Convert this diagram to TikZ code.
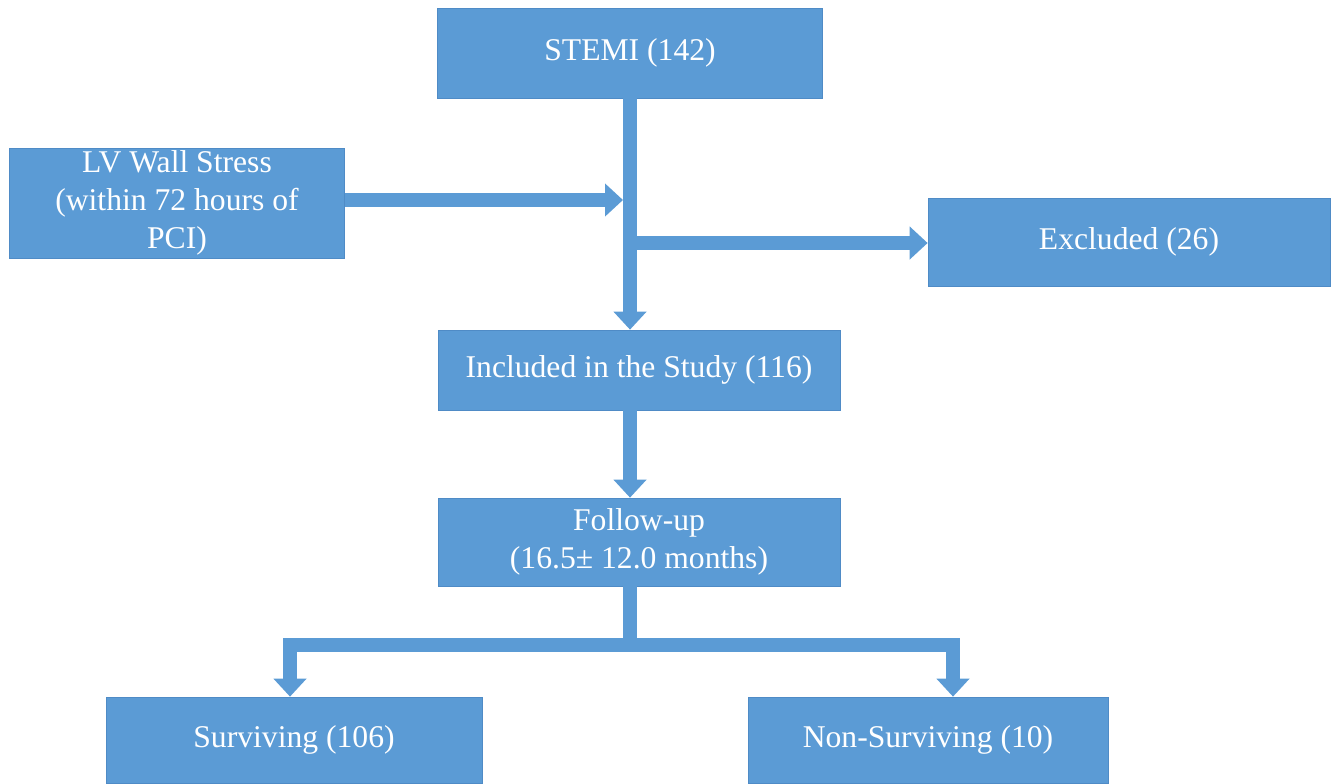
\documentclass[tikz,border=0pt]{standalone}
\usepackage{fontspec}
\setmainfont{Liberation Serif}
\usetikzlibrary{positioning}
\usetikzlibrary{arrows.meta}
\definecolor{boxblue}{HTML}{5B9BD5}
\definecolor{boxedge}{HTML}{4F8BC6}

\begin{document}
\begin{tikzpicture}[
 box/.style={draw=boxedge,line width=0.4pt,fill=boxblue,text=white,align=center,
  font=\fontsize{18}{21.5}\selectfont,inner sep=0pt},
 flow/.style={draw=boxblue,line width=2.8mm,line join=miter,
  -{Triangle[width=6.4mm,length=3.6mm]}},
 bar/.style={draw=boxblue,line width=2.8mm}]

  \useasboundingbox (0,0) rectangle (26.8,-15.66);

  \node[box,minimum width=7.7cm,minimum height=1.8cm] (stemi) at (12.6,-1.06) {STEMI (142)};
  \node[box,minimum width=6.7cm,minimum height=2.2cm] (lv) at (3.54,-4.06)
   {LV Wall Stress\\(within 72 hours of\\PCI)};
  \node[box,minimum width=8.04cm,minimum height=1.76cm] (excl) at (22.58,-4.84) {Excluded (26)};
  \node[box,minimum width=8.04cm,minimum height=1.6cm] (incl) at (12.78,-7.4)
   {Included in the Study (116)};
  \node[box,minimum width=8.04cm,minimum height=1.76cm] (fup) at (12.78,-10.84)
   {Follow-up\\(16.5± 12.0 months)};
  \node[box,minimum width=7.52cm,minimum height=1.72cm] (surv) at (5.88,-14.8) {Surviving (106)};
  \node[box,minimum width=7.2cm,minimum height=1.72cm] (nsurv) at (18.56,-14.8) {Non-Surviving (10)};

  \coordinate (trunk) at (stemi.south);
  \coordinate (jn) at ([xshift=-1.4mm]trunk);
  \coordinate (split) at (12.6,-12.9);

  \draw[flow] (trunk) -- (trunk |- incl.north);
  \draw[flow] (lv.east |- 0,-4.0) -- (jn |- 0,-4.0);
  \draw[flow] (trunk |- 0,-4.86) -- (excl.west |- 0,-4.86);
  \draw[flow] (trunk |- incl.south) -- (trunk |- fup.north);

  \draw[bar] (trunk |- fup.south) -- (split);
  \foreach \X/\dx in {surv/-0.8mm,nsurv/5mm}
  {\draw[flow] (split) -| ([xshift=\dx]\X.north);
  }

\end{tikzpicture}
\end{document}
